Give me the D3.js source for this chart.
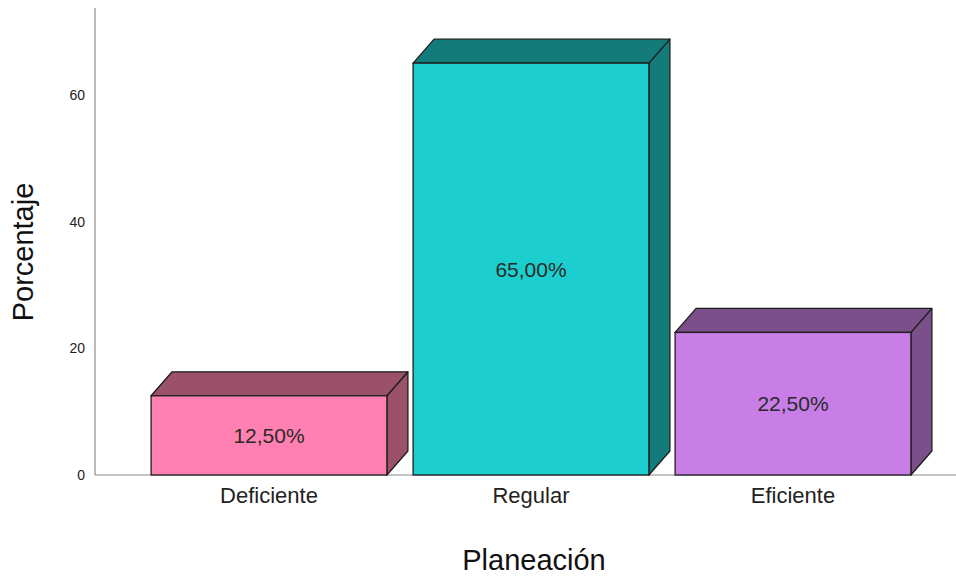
<!DOCTYPE html>
<html>
<head>
<meta charset="utf-8">
<script src="https://cdn.jsdelivr.net/npm/d3@7"></script>
<style>
  html, body { margin: 0; padding: 0; background: #ffffff; }
  svg { display: block; font-family: "Liberation Sans", Arial, sans-serif; }
</style>
</head>
<body>
<svg id="chart" width="956" height="576"></svg>
<script>
// Data
const categories = ["Deficiente", "Regular", "Eficiente"];
const values = [12.5, 65.0, 22.5];
const valueLabels = ["12,50%", "65,00%", "22,50%"];
const yTicks = [0, 20, 40, 60];
const frontColors = ["#ff80b1", "#1dcece", "#c87ee6"];
const shadeColors = ["#9a5169", "#137b7a", "#7b4f8a"];

const svg = d3.select("#chart");
const W = 956, H = 576;
const left = 95, baseY = 475, topY = 8;
const depthX = 21, depthY = 24;

const y = d3.scaleLinear().domain([0, 73.7]).range([baseY, topY]);
const x = d3.scaleBand().domain(categories).range([138, 924])
  .paddingInner(0.1).paddingOuter(0.05);

// Axis lines
svg.append("line").attr("x1", left).attr("x2", left).attr("y1", topY).attr("y2", baseY)
  .attr("stroke", "#8c8c8c").attr("stroke-width", 1.2);
svg.append("line").attr("x1", left).attr("x2", W).attr("y1", baseY).attr("y2", baseY)
  .attr("stroke", "#8c8c8c").attr("stroke-width", 1.2);

// Y tick labels
const yAxis = d3.axisLeft(y).tickValues(yTicks).tickSize(0).tickPadding(10).tickFormat(d3.format("d"));
const gy = svg.append("g").attr("transform", `translate(${left},0)`).call(yAxis);
gy.select(".domain").remove();
gy.selectAll("text").attr("font-size", 14).attr("fill", "#222")
  .attr("font-family", "'Liberation Sans', Arial, sans-serif");

// X category labels
const xAxis = d3.axisBottom(x).tickSize(0).tickPadding(12);
const gx = svg.append("g").attr("transform", `translate(0,${baseY})`).call(xAxis);
gx.select(".domain").remove();
gx.selectAll("text").attr("font-size", 22).attr("fill", "#222")
  .attr("font-family", "'Liberation Sans', Arial, sans-serif");

// 3D bars
const bars = svg.append("g").selectAll("g").data(categories).join("g");
bars.each(function(c, i) {
  const g = d3.select(this);
  const x0 = x(c), x1 = x(c) + x.bandwidth();
  const yt = y(values[i]), yb = y(0);
  // right side face
  g.append("path")
    .attr("d", `M${x1},${yt} L${x1 + depthX},${yt - depthY} L${x1 + depthX},${yb - depthY} L${x1},${yb} Z`)
    .attr("fill", shadeColors[i]).attr("stroke", "#1e1e1e").attr("stroke-width", 1.3)
    .attr("stroke-linejoin", "round");
  // top face
  g.append("path")
    .attr("d", `M${x0},${yt} L${x0 + depthX},${yt - depthY} L${x1 + depthX},${yt - depthY} L${x1},${yt} Z`)
    .attr("fill", shadeColors[i]).attr("stroke", "#1e1e1e").attr("stroke-width", 1.3)
    .attr("stroke-linejoin", "round");
  // front face
  g.append("rect")
    .attr("x", x0).attr("y", yt).attr("width", x.bandwidth()).attr("height", yb - yt)
    .attr("fill", frontColors[i]).attr("stroke", "#1e1e1e").attr("stroke-width", 1.3);
  // value label
  g.append("text")
    .attr("x", (x0 + x1) / 2).attr("y", (yt + yb) / 2)
    .attr("text-anchor", "middle").attr("dominant-baseline", "central")
    .attr("font-size", 21).attr("fill", "#2a2a2a")
    .text(valueLabels[i]);
});

// Axis titles
svg.append("text").attr("x", 534).attr("y", 570).attr("text-anchor", "middle")
  .attr("font-size", 29).attr("fill", "#111").text("Planeación");
svg.append("text").attr("transform", "translate(33,252) rotate(-90)").attr("text-anchor", "middle")
  .attr("font-size", 29).attr("fill", "#111").text("Porcentaje");
</script>
</body>
</html>
